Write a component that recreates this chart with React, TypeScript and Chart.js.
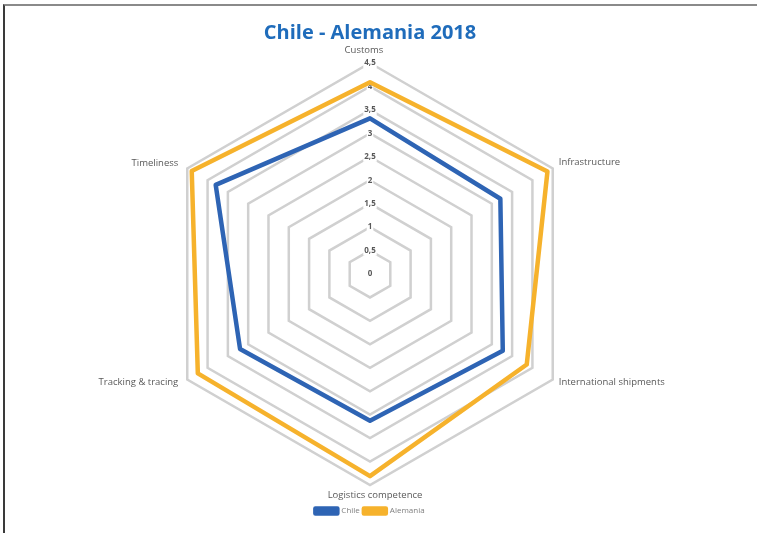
import React, { useEffect, useRef } from "react";
import { Chart, registerables } from "chart.js";

Chart.register(...registerables);

const categories = [
  "Customs",
  "Infrastructure",
  "International shipments",
  "Logistics competence",
  "Tracking & tracing",
  "Timeliness",
];
const chileValues = [3.32, 3.21, 3.27, 3.13, 3.2, 3.8];
const alemaniaValues = [4.09, 4.37, 3.86, 4.31, 4.24, 4.39];
const seriesNames = ["Chile", "Alemania"];
const titleText = "Chile - Alemania 2018";

const FONT = "'Open Sans', 'Noto Sans', sans-serif";

const labelPlugin = {
  id: "customPointLabels",
  afterDraw(chart: any) {
    const s = chart.scales.r;
    const ctx = chart.ctx;
    ctx.save();
    ctx.font = `9.5px ${FONT}`;
    ctx.fillStyle = "#595959";
    ctx.textBaseline = "middle";
    categories.forEach((lab, i) => {
      const p = s.getPointPosition(i, s.drawingArea);
      const dx = p.x - s.xCenter;
      const up = p.y < s.yCenter;
      let x = p.x;
      let y = p.y;
      if (Math.abs(dx) < 1) {
        ctx.textAlign = "center";
        x += up ? -6 : 5;
        y += up ? -13 : 10;
      } else if (dx > 0) {
        ctx.textAlign = "left";
        x += 6;
        y += up ? -6 : 3;
      } else {
        ctx.textAlign = "right";
        x -= 9;
        y += up ? -5 : 3;
      }
      ctx.fillText(lab, x, y);
    });
    ctx.font = `bold 8px ${FONT}`;
    ctx.textAlign = "center";
    ctx.fillText("0", s.xCenter, s.yCenter);
    ctx.restore();
  },
};

export default function App() {
  const canvasRef = useRef<HTMLCanvasElement | null>(null);

  useEffect(() => {
    if (!canvasRef.current) return;
    const chart = new Chart(canvasRef.current, {
      type: "radar",
      data: {
        labels: categories,
        datasets: [
          {
            label: seriesNames[0],
            data: chileValues,
            borderColor: "#2e64b4",
            backgroundColor: "#2e64b4",
            borderWidth: 4.5,
            pointRadius: 0,
            fill: false,
            borderJoinStyle: "round",
          },
          {
            label: seriesNames[1],
            data: alemaniaValues,
            borderColor: "#f6b22c",
            backgroundColor: "#f6b22c",
            borderWidth: 4.5,
            pointRadius: 0,
            fill: false,
            borderJoinStyle: "round",
          },
        ],
      },
      plugins: [labelPlugin],
      options: {
        responsive: false,
        animation: false,
        layout: { padding: { left: 0, right: 17, top: 0, bottom: 8 } },
        plugins: {
          title: {
            display: true,
            text: titleText,
            color: "#1f6cbb",
            font: { family: FONT, size: 20, weight: "bold" },
            padding: { top: 21, bottom: 0 },
          },
          legend: {
            position: "bottom",
            labels: {
              color: "#7f7f7f",
              font: { family: FONT, size: 8 },
              boxWidth: 22,
              boxHeight: 5,
              padding: 4,
            },
          },
          tooltip: { enabled: false },
        },
        scales: {
          r: {
            min: 0,
            max: 4.5,
            afterFit: (scale: any) => {
              scale.setCenterPoint(13, 13, 13, 13);
            },
            ticks: {
              stepSize: 0.5,
              color: "#595959",
              font: { family: FONT, size: 8, weight: "bold" },
              backdropColor: "#ffffff",
              backdropPadding: 1,
              showLabelBackdrop: true,
              callback: (v: any) => String(v).replace(".", ","),
            },
            grid: { color: "#d0d0d0", lineWidth: 2.5 },
            angleLines: { display: false },
            pointLabels: { display: false },
          },
        },
      },
    });
    return () => chart.destroy();
  }, []);

  return (
    <div style={{ position: "absolute", left: 0, top: 0, width: 757, height: 533, background: "#fff" }}>
      <div
        style={{
          position: "absolute",
          left: 3,
          top: 4,
          width: 754,
          height: 529,
          borderTop: "2px solid #8a8a8a",
          borderLeft: "2px solid #3a3a3a",
          boxSizing: "border-box",
        }}
      />
      <canvas ref={canvasRef} width={757} height={533} style={{ position: "absolute", left: 0, top: 0 }} />
    </div>
  );
}
